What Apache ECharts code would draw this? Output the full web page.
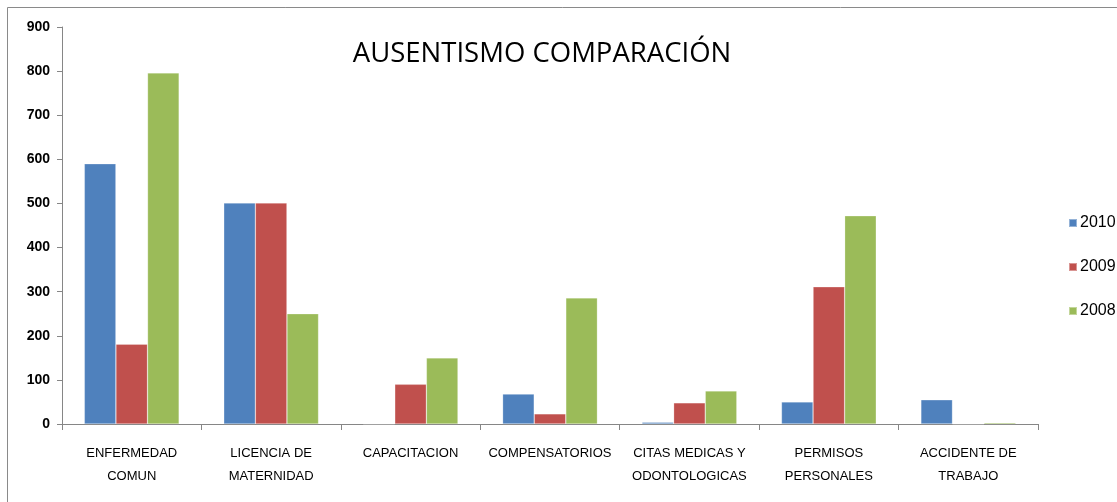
<!DOCTYPE html>
<html>
<head>
<meta charset="utf-8">
<script src="https://cdn.jsdelivr.net/npm/echarts@6/dist/echarts.min.js"></script>
<style>
  html, body { margin: 0; padding: 0; background: #fff; }
  #chart { width: 1117px; height: 502px; }
</style>
</head>
<body>
<div id="chart"></div>
<script>
// datos
const categories = [
  'ENFERMEDAD\nCOMUN', 'LICENCIA DE\nMATERNIDAD', 'CAPACITACION', 'COMPENSATORIOS',
  'CITAS MEDICAS Y\nODONTOLOGICAS', 'PERMISOS\nPERSONALES', 'ACCIDENTE DE\nTRABAJO'
];
const years = ['2010', '2009', '2008'];
const values2010 = [590, 501, 0, 68, 4, 50, 55];
const values2009 = [181, 501, 90, 23, 48, 311, 0];
const values2008 = [796, 250, 150, 286, 75, 472, 3];
const colors = ['#4F81BD', '#C0504D', '#9BBB59'];

const chart = echarts.init(document.getElementById('chart'));

const axisGray = '#868686';
const mkSeries = (name, data, i) => ({
  name,
  type: 'bar',
  data,
  barGap: '0%',
  barCategoryGap: '32%',
  itemStyle: { color: colors[i], borderColor: 'rgba(255,255,255,0.4)', borderWidth: 0.6 }
});

chart.setOption({
  animation: false,
  color: colors,
  textStyle: { fontFamily: '"Liberation Sans Narrow", "Liberation Sans", sans-serif' },
  title: {
    text: 'AUSENTISMO COMPARACIÓN',
    left: 537, top: 35, textAlign: 'center',
    textStyle: { fontFamily: '"Open Sans", "Noto Sans", sans-serif', fontWeight: 'normal', fontSize: 27.5, color: '#000' }
  },
  legend: {
    orient: 'vertical',
    left: 1063, top: 210,
    itemWidth: 8, itemHeight: 8, itemGap: 28,
    icon: 'rect',
    textStyle: { fontSize: 16, color: '#000', fontFamily: '"Liberation Sans", sans-serif', padding: [0, 0, 0, -2] },
    data: years
  },
  grid: { left: 62, right: 79, top: 27, bottom: 78 },
  xAxis: {
    type: 'category',
    data: categories,
    axisLine: { lineStyle: { color: axisGray, width: 1 } },
    axisTick: { show: true, length: 6, lineStyle: { color: axisGray } },
    axisLabel: { interval: 0, color: '#000', fontSize: 13, lineHeight: 23, margin: 18 }
  },
  yAxis: {
    type: 'value',
    min: 0, max: 900, interval: 100,
    splitLine: { show: false },
    axisLine: { show: true, lineStyle: { color: axisGray, width: 1 } },
    axisTick: { show: true, length: 5, lineStyle: { color: axisGray } },
    axisLabel: { color: '#000', fontSize: 14, fontWeight: 'bold', margin: 12 }
  },
  graphic: [{
    type: 'rect',
    shape: { x: 7.5, y: 7.5, width: 1300, height: 700 },
    style: { fill: 'none', stroke: '#8a8a8a', lineWidth: 1 },
    silent: true
  }],
  series: [
    mkSeries(years[0], values2010, 0),
    mkSeries(years[1], values2009, 1),
    mkSeries(years[2], values2008, 2)
  ]
});
</script>
</body>
</html>
